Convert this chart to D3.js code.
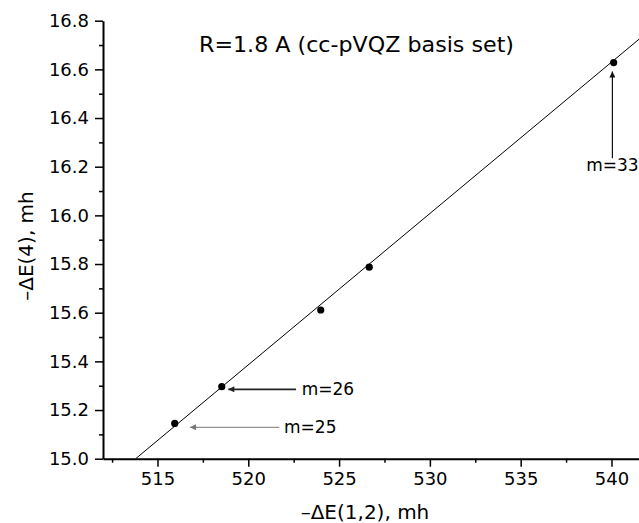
<!DOCTYPE html>
<html>
<head>
<meta charset="utf-8">
<script src="https://cdn.jsdelivr.net/npm/d3@7"></script>
<style>
  body { margin: 0; background: #fff; }
  svg { display: block; font-family: "DejaVu Sans", sans-serif; }
</style>
</head>
<body>
<div id="chart"></div>
<script>
// values
var pointX = [515.95, 518.54, 523.99, 526.66, 540.12];
var pointY = [15.145, 15.296, 15.611, 15.787, 16.628];

// fitted straight line, two ends
var fitX = [513.8, 542.0];
var fitY = [15.0, 16.754];

var xTicks = [515, 520, 525, 530, 535, 540];
var yTicks = [15.0, 15.2, 15.4, 15.6, 15.8, 16.0, 16.2, 16.4, 16.6, 16.8];

// annotation arrows (data units): tip, tail, label
var noteLabels = ["m=25", "m=26", "m=33"];
var noteTipX = [516.79, 518.9, 540.05];
var noteTipY = [15.129, 15.285, 16.591];
var noteTailX = [521.71, 522.63, 540.05];
var noteTailY = [15.129, 15.285, 16.235];
var noteTextX = [521.97, 522.94, 540.05];
var noteTextY = [15.129, 15.285, 16.183];

var width = 639, height = 523;
var plotLeft = 103, plotTop = 20.7, plotBottom = 458.7;

var svg = d3.select("#chart").append("svg")
	.attr("width", width)
	.attr("height", height);

var x = d3.scaleLinear().domain([512, 542]).range([plotLeft, plotLeft + 30 * 18.16]);
var y = d3.scaleLinear().domain([15.0, 16.8]).range([plotBottom, plotTop]);

svg.append("clipPath").attr("id", "plot")
	.append("rect")
	.attr("x", plotLeft).attr("y", plotTop)
	.attr("width", width - plotLeft).attr("height", plotBottom - plotTop);

// minor ticks
var xMinor = d3.range(512.5, 542, 2.5).filter(function(v) { return v % 5 !== 0; });
var yMinor = d3.range(15.1, 16.8, 0.2);

svg.append("g")
	.attr("transform", "translate(0," + plotBottom + ")")
	.call(d3.axisBottom(x).tickValues(xMinor).tickSize(4).tickFormat(""))
	.call(function(g) { g.select(".domain").remove(); g.selectAll("line").attr("stroke-width", 1.5); });

svg.append("g")
	.attr("transform", "translate(" + plotLeft + ",0)")
	.call(d3.axisLeft(y).tickValues(yMinor).tickSize(4).tickFormat(""))
	.call(function(g) { g.select(".domain").remove(); g.selectAll("line").attr("stroke-width", 1.5); });

// main axes
var xAxis = svg.append("g")
	.attr("transform", "translate(0," + plotBottom + ")")
	.call(d3.axisBottom(x).tickValues(xTicks).tickSize(8).tickPadding(6).tickSizeOuter(0).tickFormat(d3.format("d")));

var yAxis = svg.append("g")
	.attr("transform", "translate(" + plotLeft + ",0)")
	.call(d3.axisLeft(y).tickValues(yTicks).tickSize(8).tickPadding(6).tickSizeOuter(0).tickFormat(d3.format(".1f")));

[xAxis, yAxis].forEach(function(g) {
	g.select(".domain").attr("stroke-width", 2);
	g.selectAll(".tick line").attr("stroke-width", 1.5);
	g.selectAll("text").attr("font-size", 18).attr("fill", "#000")
		.attr("font-family", "DejaVu Sans, sans-serif");
});

// fit line
var line = d3.line()
	.x(function(d) { return x(d[0]); })
	.y(function(d) { return y(d[1]); });

svg.append("path")
	.datum(d3.zip(fitX, fitY))
	.attr("clip-path", "url(#plot)")
	.attr("d", line)
	.attr("fill", "none")
	.attr("stroke", "#000")
	.attr("stroke-width", 1);

// points
svg.selectAll("circle.pt")
	.data(d3.zip(pointX, pointY))
	.enter()
	.append("circle")
	.classed("pt", true)
	.attr("cx", function(d) { return x(d[0]); })
	.attr("cy", function(d) { return y(d[1]); })
	.attr("r", 3.6)
	.attr("fill", "#000");

// arrowheads
var arrowColors = ["#777", "#222", "#111"];
var arrowWidths = [1, 1.6, 1.2];

var defs = svg.append("defs");
arrowColors.forEach(function(c, i) {
	defs.append("marker")
		.attr("id", "head" + i)
		.attr("viewBox", "0 0 10 10")
		.attr("refX", 10).attr("refY", 5)
		.attr("markerUnits", "userSpaceOnUse")
		.attr("markerWidth", 8).attr("markerHeight", 6)
		.attr("orient", "auto")
		.append("path")
		.attr("d", "M0,0L10,5L0,10z")
		.attr("fill", c);
});

noteLabels.forEach(function(label, i) {
	svg.append("line")
		.attr("x1", x(noteTailX[i])).attr("y1", y(noteTailY[i]))
		.attr("x2", x(noteTipX[i])).attr("y2", y(noteTipY[i]))
		.attr("stroke", arrowColors[i])
		.attr("stroke-width", arrowWidths[i])
		.attr("marker-end", "url(#head" + i + ")");

	svg.append("text")
		.attr("x", x(noteTextX[i]))
		.attr("y", y(noteTextY[i]))
		.attr("dy", i < 2 ? "0.35em" : 0)
		.attr("text-anchor", i < 2 ? "start" : "middle")
		.attr("font-size", 17)
		.text(label);
});

// title
svg.append("text")
	.attr("x", 199)
	.attr("y", 52)
	.attr("font-size", 21)
	.attr("textLength", 315)
	.attr("lengthAdjust", "spacingAndGlyphs")
	.text("R=1.8 A (cc-pVQZ basis set)");

// axis titles
svg.append("text")
	.attr("x", 365)
	.attr("y", 519)
	.attr("text-anchor", "middle")
	.attr("font-size", 20)
	.text("\u2013\u0394E(1,2), mh");

svg.append("text")
	.attr("transform", "translate(33,246) rotate(-90)")
	.attr("text-anchor", "middle")
	.attr("font-size", 20)
	.text("\u2013\u0394E(4), mh");
</script>
</body>
</html>
